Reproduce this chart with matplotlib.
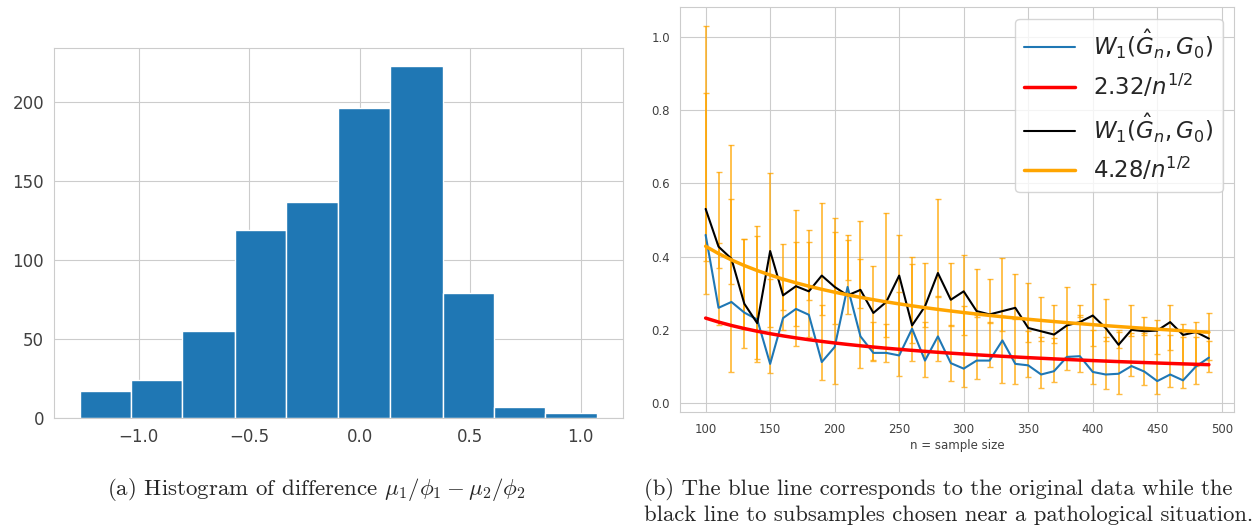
import numpy as np
import matplotlib
matplotlib.use("Agg")
import matplotlib.pyplot as plt
import seaborn as sns

# ---- left panel: histogram of mu1/phi1 - mu2/phi2
bin_edges = [-1.266, -1.036, -0.802, -0.566, -0.333, -0.096, 0.136, 0.377, 0.608, 0.840, 1.075]
bin_counts = [17, 24, 55, 119, 137, 196, 223, 79, 7, 3]

# ---- right panel: W1 distance vs sample size
n_size = [100, 110, 120, 130, 140, 150, 160, 170, 180, 190,
          200, 210, 220, 230, 240, 250, 260, 270, 280, 290,
          300, 310, 320, 330, 340, 350, 360, 370, 380, 390,
          400, 410, 420, 430, 440, 450, 460, 470, 480, 490]
w1_orig = [0.459, 0.260, 0.276, 0.247, 0.228, 0.107, 0.232, 0.257, 0.241, 0.112,
           0.153, 0.317, 0.182, 0.137, 0.137, 0.130, 0.203, 0.116, 0.182, 0.109,
           0.094, 0.116, 0.116, 0.171, 0.107, 0.103, 0.078, 0.087, 0.126, 0.128,
           0.085, 0.078, 0.080, 0.101, 0.086, 0.060, 0.078, 0.062, 0.100, 0.124]
w1_sub = [0.530, 0.427, 0.394, 0.271, 0.218, 0.415, 0.294, 0.319, 0.305, 0.348,
          0.317, 0.294, 0.309, 0.246, 0.276, 0.348, 0.212, 0.264, 0.355, 0.282,
          0.305, 0.251, 0.242, 0.251, 0.260, 0.205, 0.196, 0.187, 0.212, 0.221,
          0.239, 0.205, 0.159, 0.200, 0.196, 0.198, 0.221, 0.186, 0.194, 0.176]
# error bar caps, sorted low->high at each n (two bars: a-c and b-d)
cap_a = [0.298, 0.212, 0.086, 0.149, 0.111, 0.083, 0.200, 0.157, 0.180, 0.064,
         0.053, 0.243, 0.095, 0.115, 0.113, 0.074, 0.116, 0.072, 0.115, 0.059,
         0.044, 0.067, 0.098, 0.055, 0.052, 0.072, 0.042, 0.058, 0.089, 0.085,
         0.052, 0.039, 0.025, 0.073, 0.048, 0.025, 0.043, 0.042, 0.052, 0.085]
cap_b = [0.387, 0.369, 0.324, 0.203, 0.121, 0.207, 0.253, 0.210, 0.280, 0.241,
         0.215, 0.336, 0.260, 0.118, 0.181, 0.150, 0.164, 0.207, 0.289, 0.210,
         0.186, 0.236, 0.218, 0.196, 0.230, 0.167, 0.169, 0.165, 0.125, 0.234,
         0.155, 0.170, 0.150, 0.183, 0.185, 0.135, 0.145, 0.108, 0.100, 0.118]
cap_c = [0.847, 0.437, 0.556, 0.447, 0.456, 0.339, 0.337, 0.440, 0.440, 0.267,
         0.467, 0.445, 0.392, 0.221, 0.217, 0.303, 0.379, 0.221, 0.292, 0.212,
         0.266, 0.240, 0.222, 0.239, 0.235, 0.196, 0.180, 0.178, 0.220, 0.240,
         0.200, 0.180, 0.193, 0.190, 0.190, 0.185, 0.185, 0.180, 0.180, 0.170]
cap_d = [1.030, 0.632, 0.705, 0.449, 0.482, 0.629, 0.435, 0.528, 0.473, 0.546,
         0.506, 0.460, 0.497, 0.374, 0.519, 0.459, 0.399, 0.381, 0.558, 0.382,
         0.405, 0.367, 0.339, 0.397, 0.352, 0.327, 0.289, 0.268, 0.316, 0.268,
         0.324, 0.285, 0.200, 0.268, 0.236, 0.227, 0.268, 0.215, 0.222, 0.246]
c_orig = 2.32
c_sub = 4.28

sns.set_style("whitegrid")

fig = plt.figure(figsize=(12.55, 5.27), dpi=100)
ax1 = fig.add_axes([0.0430, 0.2068, 0.4534, 0.7020])
ax2 = fig.add_axes([0.5422, 0.2176, 0.4411, 0.7685])

# histogram
edges = np.array(bin_edges)
ax1.bar(edges[:-1], bin_counts, width=np.diff(edges), align="edge",
        color="#1f77b4", edgecolor="white", linewidth=1)
ax1.set_yticks([0, 50, 100, 150, 200])
ax1.tick_params(labelsize=12, colors=".25")

# W1 vs n
n = np.array(n_size)
a, b, c, d = (np.array(v) for v in (cap_a, cap_b, cap_c, cap_d))
for lo, hi in ((a, c), (b, d)):
    ax2.errorbar(n, (lo + hi) / 2, yerr=(hi - lo) / 2, fmt="none",
                 ecolor="orange", elinewidth=1.3, capsize=2.5, alpha=0.75, zorder=2)
ax2.plot(n, w1_orig, color="#1f77b4", lw=1.5, zorder=3, label=r"$W_1(\hat{G}_n, G_0)$")
ax2.plot(n, c_orig / np.sqrt(n), color="red", lw=2.5, zorder=3, label=r"$2.32/n^{1/2}$")
ax2.plot(n, w1_sub, color="black", lw=1.5, zorder=3, label=r"$W_1(\hat{G}_n, G_0)$")
ax2.plot(n, c_sub / np.sqrt(n), color="orange", lw=2.5, zorder=3, label=r"$4.28/n^{1/2}$")
ax2.set_xticks([100, 150, 200, 250, 300, 350, 400, 450, 500])
ax2.set_yticks([0.0, 0.2, 0.4, 0.6, 0.8, 1.0])
ax2.tick_params(labelsize=8.5, colors=".25", pad=4)
ax2.set_xlabel("n = sample size", fontsize=8.5, color=".25", labelpad=2)
ax2.legend(loc="upper right", fontsize=16.5, handlelength=2.2, labelspacing=0.5)

# captions
fig.text(0.252, 0.061, r"(a) Histogram of difference $\mu_1/\phi_1 - \mu_2/\phi_2$",
         ha="center", va="baseline", fontsize=16.5, family="cmr10", math_fontfamily="cm")
fig.text(0.513, 0.061, "(b) The blue line corresponds to the original data while the",
         ha="left", va="baseline", fontsize=16.3, family="cmr10")
fig.text(0.513, 0.011, "black line to subsamples chosen near a pathological situation.",
         ha="left", va="baseline", fontsize=16.3, family="cmr10")

fig.savefig("out.png", dpi=100)
